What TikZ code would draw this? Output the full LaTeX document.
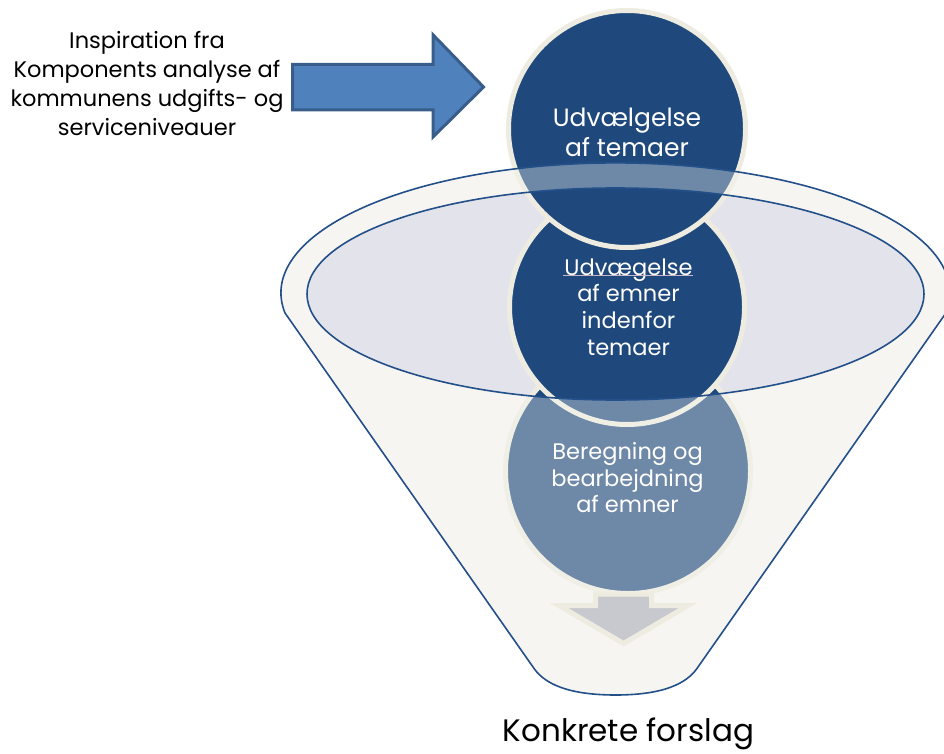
\documentclass[tikz,border=0pt]{standalone}
\usepackage{fontspec}
\setmainfont{Poppins}
\definecolor{dblue}{HTML}{1F497D}
\definecolor{lineblue}{HTML}{24508A}
\definecolor{cream}{HTML}{EEECE1}
\definecolor{funnelfill}{HTML}{F6F5F1}
\definecolor{mouthfill}{HTML}{E3E4EB}
\definecolor{arrowfill}{HTML}{4F81BD}
\definecolor{arrowline}{HTML}{385D8A}
\definecolor{downfill}{HTML}{C8C9CF}
\definecolor{squiggle}{HTML}{C9B4C8}
\tikzset{
  stage/.style={circle, fill=dblue, draw=cream, line width=5pt, inner sep=0pt},
  outline/.style={draw=lineblue, line width=1.6pt},
  intext/.style={text=white, align=center, inner sep=0pt},
}
\def\funnelpath{(285,313) arc[start angle=171.1, end angle=368.9, x radius=334.5, y radius=130] -- (698,667) .. controls (690,679) and (672,695) .. (615.5,695) .. controls (559,695) and (541,679) .. (533,667) -- cycle}
\def\mouthpath{(615.5,294) ellipse [x radius=308.5, y radius=106]}
\begin{document}
\begin{tikzpicture}[x=1pt,y=-1pt]
\useasboundingbox (0,0) rectangle (944,754);
% funnel body and mouth
\fill[funnelfill] \funnelpath;
\fill[mouthfill] \mouthpath;
% stages
\node[stage, minimum size=245pt] (c3) at (628,471) {};
\node[stage, minimum size=235pt] (c2) at (627,307) {};
\node[stage, minimum size=237pt] (c1) at (627,129) {};
% translucent funnel wall over the stages
\fill[funnelfill, opacity=0.37, even odd rule] \funnelpath \mouthpath;
\draw[outline] \funnelpath;
\draw[outline] \mouthpath;
% down arrow
\draw[fill=downfill, draw=cream, line width=5pt, line join=miter]
  (595.5,594) -- (651.5,594) -- (651.5,605.5) -- (688,605.5) -- (623.5,643.5)
  -- (559,605.5) -- (595.5,605.5) -- cycle;
% input arrow
\draw[fill=arrowfill, draw=arrowline, line width=3pt, line join=miter]
  (292.5,64.5) -- (433,64.5) -- (433,34.8) -- (483.5,87) -- (433,137)
  -- (433,109.8) -- (292.5,109.8) -- cycle;
% texts
\node[align=center, inner sep=0pt, font=\fontsize{22.5}{29}\selectfont] (insp) at (147,84)
  {Inspiration fra\\Komponents analyse af\\kommunens udgifts- og\\serviceniveauer};
\node[intext, font=\fontsize{25}{30}\selectfont] (t1) at (627,132) {Udvælgelse\\af temaer};
\node[intext, font=\fontsize{22.5}{26.7}\selectfont] (t2) at (628.5,307) {Udvægelse\\af emner\\indenfor\\temaer};
\node[intext, font=\fontsize{22.5}{26.5}\selectfont] (t3) at (627.5,478) {Beregning og\\bearbejdning\\af emner};
\node[anchor=base, inner sep=0pt, font=\fontsize{31}{36}\selectfont] (out) at (628.5,741) {Konkrete forslag};
\coordinate (ua) at (563,275);
\coordinate (ub) at (693,275);
\draw[squiggle, line width=1pt] (ua) -- (ub);
\end{tikzpicture}
\end{document}
